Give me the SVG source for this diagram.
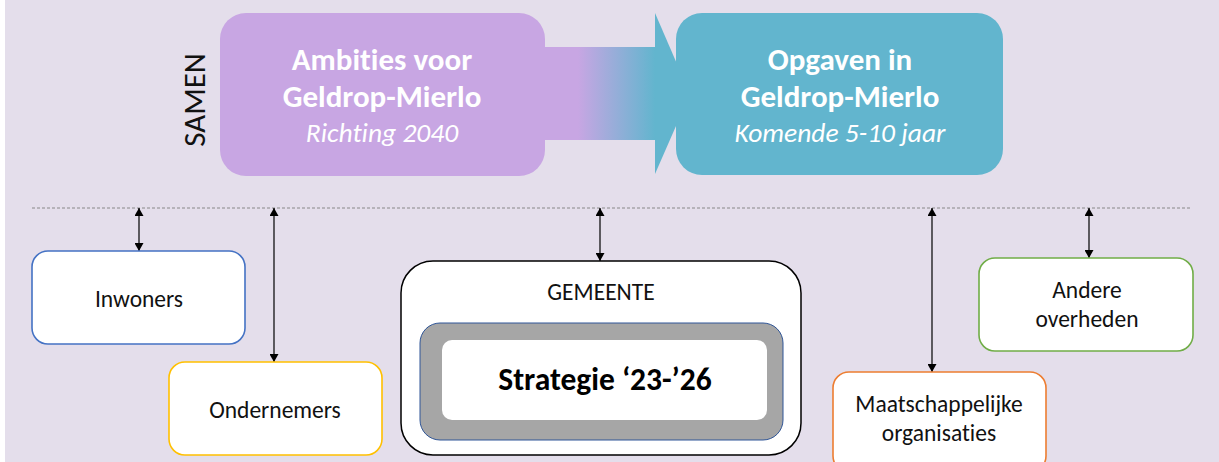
<svg xmlns="http://www.w3.org/2000/svg" width="1219" height="462" viewBox="0 0 1219 462">
<defs>
<linearGradient id="g" x1="545" y1="0" x2="655" y2="0" gradientUnits="userSpaceOnUse">
<stop offset="0.3" stop-color="#C8A6E3"/>
<stop offset="1" stop-color="#62B5CE"/>
</linearGradient>
<marker id="ah" viewBox="0 0 10 10" refX="10" refY="5" markerWidth="8" markerHeight="9" orient="auto-start-reverse" markerUnits="userSpaceOnUse" preserveAspectRatio="none">
<path d="M0,0 L10,5 L0,10 Z" fill="#000"/>
</marker>
<style>
text{font-family:"Carlito","Calibri","Open Sans","Liberation Sans",sans-serif;font-variant-ligatures:none;}
.big{fill:#fff;font-weight:bold;font-size:31px;text-anchor:middle;}
.it{fill:#fff;font-style:italic;font-size:27.5px;text-anchor:middle;}
.lbl{fill:#111;font-size:23.5px;text-anchor:middle;}
.box{fill:#fff;stroke-width:1.6;}
.con{stroke:#000;stroke-width:1.2;fill:none;marker-start:url(#ah);marker-end:url(#ah);}
</style>
</defs>
<rect x="0" y="0" width="1219" height="462" fill="#fff"/>
<rect x="5" y="0" width="1214" height="462" fill="#E4DEEB"/>

<g id="arrow-band">
<rect x="540" y="47" width="118" height="93" fill="url(#g)"/>
<polygon points="655,13 690,94 655,174" fill="#62B5CE"/>
</g>
<g id="ambities">
<rect x="220" y="13" width="325" height="163" rx="26" fill="#C8A6E3"/>
<text class="big" x="382" y="70">Ambities voor</text>
<text class="big" x="382" y="107">Geldrop-Mierlo</text>
<text class="it" x="382" y="142">Richting 2040</text>
</g>
<g id="opgaven">
<rect x="676" y="13" width="327" height="162" rx="26" fill="#62B5CE"/>
<text class="big" x="840" y="70">Opgaven in</text>
<text class="big" x="840" y="107">Geldrop-Mierlo</text>
<text class="it" x="840" y="142">Komende 5-10 jaar</text>
</g>
<g id="samen">
<text x="0" y="0" transform="translate(205,100) rotate(-90)" font-size="31" text-anchor="middle" fill="#111">SAMEN</text>
</g>

<g id="connectors">
<line x1="32" y1="208" x2="1192" y2="208" stroke="#888" stroke-width="1" stroke-dasharray="3,2"/>
<line class="con" x1="139" y1="208" x2="139" y2="251"/>
<line class="con" x1="274" y1="208" x2="274" y2="362"/>
<line class="con" x1="600" y1="208" x2="600" y2="261"/>
<line class="con" x1="932" y1="208" x2="932" y2="372"/>
<line class="con" x1="1089" y1="208" x2="1089" y2="258"/>
</g>

<g id="inwoners">
<rect class="box" x="32" y="251" width="213" height="93" rx="16" stroke="#4472C4"/>
<text class="lbl" x="139" y="307">Inwoners</text>
</g>
<g id="ondernemers">
<rect class="box" x="169" y="362" width="213" height="93" rx="16" stroke="#FFC000"/>
<text class="lbl" x="275" y="418">Ondernemers</text>
</g>
<g id="gemeente">
<rect x="401" y="261" width="400" height="194" rx="32" fill="#fff" stroke="#000" stroke-width="1.5"/>
<text class="lbl" x="601" y="300">GEMEENTE</text>
<rect x="420" y="323" width="363" height="117" rx="20" fill="#A6A6A6" stroke="#2F5597" stroke-width="1"/>
<rect x="442" y="340" width="325" height="80" rx="10" fill="#fff"/>
<text x="605" y="390" font-size="31.5" font-weight="bold" text-anchor="middle" fill="#000">Strategie ‘23-’26</text>
</g>
<g id="maatschappelijke">
<rect class="box" x="833" y="372" width="213" height="100" rx="16" stroke="#ED7D31"/>
<text class="lbl" x="939" y="412">Maatschappelijke</text>
<text class="lbl" x="939" y="441">organisaties</text>
</g>
<g id="andere">
<rect class="box" x="979" y="258" width="214" height="93" rx="16" stroke="#70AD47"/>
<text class="lbl" x="1087" y="298">Andere</text>
<text class="lbl" x="1087" y="327">overheden</text>
</g>
</svg>
